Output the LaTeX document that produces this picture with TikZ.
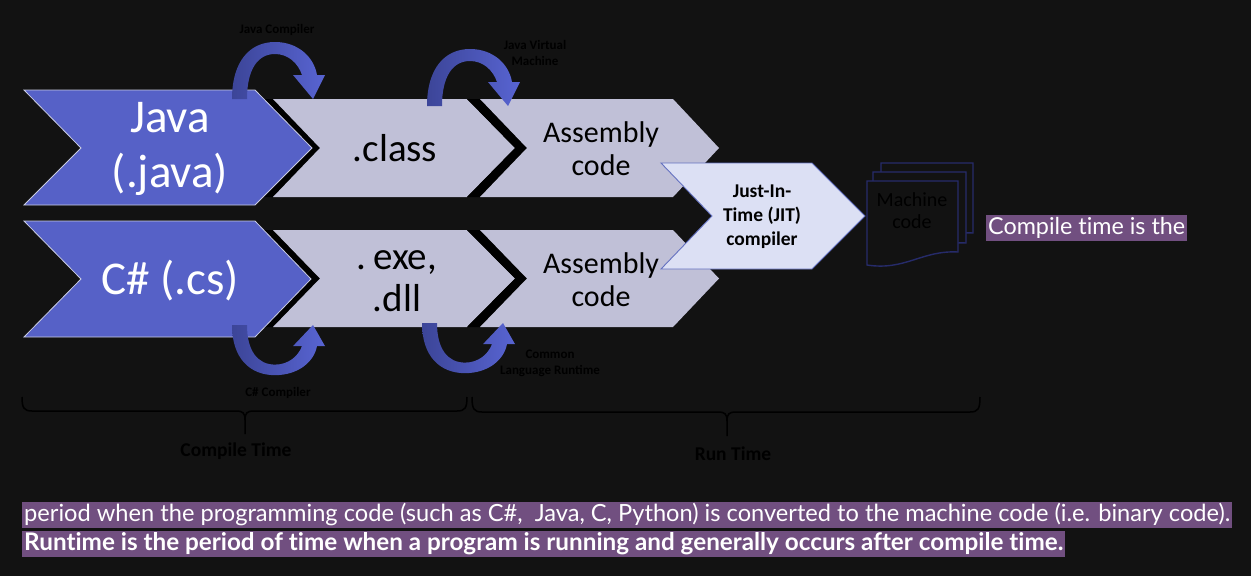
\documentclass[tikz,border=0pt]{standalone}
\usepackage{fontspec}
\setmainfont{Carlito}
\newfontfamily\latofont[Ligatures=NoCommon]{Lato}
\definecolor{bgc}{HTML}{121212}
\definecolor{bluech}{HTML}{5661C7}
\definecolor{blueedge}{HTML}{C9CCE2}
\definecolor{greych}{HTML}{C0C0D7}
\definecolor{jitfill}{HTML}{DCE0F4}
\definecolor{jitedge}{HTML}{6471C0}
\definecolor{docedge}{HTML}{262B6A}
\definecolor{arrowdark}{HTML}{3C4598}
\definecolor{arrowlight}{HTML}{5864D2}
\definecolor{hlc}{HTML}{714F80}
\begin{document}
\begin{tikzpicture}[x=1pt,y=-1pt,
  bluechev/.style={fill=bluech, draw=blueedge, line width=0.8pt, line join=miter},
  greychev/.style={fill=greych},
  band/.style={fill=black},
  bigtxt/.style={text=white, align=center, inner sep=0pt, font=\fontsize{47}{55}\selectfont},
  midtxt/.style={text=black, align=center, inner sep=0pt, font=\fontsize{39}{42}\selectfont},
  asmtxt/.style={text=black, align=center, inner sep=0pt, font=\fontsize{30}{33}\selectfont},
  jittxt/.style={text=black, align=center, inner sep=0pt, font=\bfseries\fontsize{19.5}{24}\selectfont},
  tinylbl/.style={text=black, align=center, inner sep=0pt, font=\bfseries\fontsize{13}{16}\selectfont},
  bracelbl/.style={text=black, inner sep=0pt, font=\bfseries\fontsize{19.5}{22}\selectfont},
  bracestyle/.style={draw=black, line width=1.5pt},
  hl/.style={fill=hlc, text=white, inner xsep=2pt, inner ysep=0pt, minimum height=26pt, anchor=west},
  carrow/.pic={\shade[left color=arrowdark, right color=arrowlight]
     (0,0) .. controls (0,-38) and (18,-57) .. (43,-57)
     .. controls (66,-57) and (82,-42) .. (85,-24) -- (93,-24) -- (81,0) -- (61,-24) -- (70,-24)
     .. controls (66,-36) and (56,-45) .. (43,-45)
     .. controls (26,-45) and (15,-30) .. (15,0) -- cycle;}
]
\useasboundingbox (0,0) rectangle (1251,576);
\fill[bgc] (0,0) rectangle (1251,576);

% top row
\fill[band] (263,99) -- (273,99) -- (320,148) -- (273,197) -- (263,197) -- (311,148) -- cycle;
\fill[greych] (273,99) -- (467,99) -- (515,148) -- (467,197) -- (273,197) -- (320,148) -- cycle;
\fill[band] (467,99) -- (480,99) -- (527,148) -- (480,197) -- (467,197) -- (515,148) -- cycle;
\fill[greych] (480,99) -- (673,99) -- (719,148) -- (673,197) -- (480,197) -- (527,148) -- cycle;
\draw[bluechev] (24,90) -- (255,90) -- (312,148) -- (255,205) -- (24,205) -- (81,148) -- cycle;

% bottom row
\fill[band] (263,230) -- (273,230) -- (320,278.5) -- (273,327) -- (263,327) -- (311,278.5) -- cycle;
\fill[greych] (273,230) -- (467,230) -- (515,278.5) -- (467,327) -- (273,327) -- (320,278.5) -- cycle;
\fill[band] (467,230) -- (480,230) -- (527,278.5) -- (480,327) -- (467,327) -- (515,278.5) -- cycle;
\fill[greych] (480,230) -- (673,230) -- (719,278.5) -- (673,327) -- (480,327) -- (527,278.5) -- cycle;
\draw[bluechev] (24,221) -- (255,221) -- (311,279) -- (255,337) -- (24,337) -- (81,279) -- cycle;

% JIT chevron
\draw[fill=jitfill, draw=jitedge, line width=0.9pt] (661,163) -- (812,163) -- (865,216) -- (812,269) -- (661,269) -- (712,216) -- cycle;

% machine code documents
\draw[docedge, line width=1.4pt, fill=bgc] (881,163) -- (973,163) -- (973,233) .. controls (940,231) and (925,251) .. (881,247) -- cycle;
\draw[docedge, line width=1.4pt, fill=bgc] (873,172) -- (966,172) -- (966,243) .. controls (933,241) and (918,261) .. (873,256) -- cycle;
\draw[docedge, line width=1.4pt, fill=bgc] (867,181) -- (958,181) -- (958,252) .. controls (922,250) and (905,271) .. (867,265) -- cycle;

% curved arrows
\pic at (232,99) {carrow};
\pic at (427,106) {carrow};
\pic[yscale=-0.88] at (232,325) {carrow};
\pic[yscale=-0.88] at (422,323) {carrow};

% texts in shapes
\node[bigtxt] (java) at (170,149) {Java\\(.java)};
\node[bigtxt] (cs) at (170,281) {C\# (.cs)};
\node[midtxt] (class) at (395,148) {.class};
\node[midtxt] (exe) at (397,281) {.\,exe,\\.dll};
\node[asmtxt] (asm1) at (601,149) {Assembly\\code};
\node[asmtxt] (asm2) at (601,280) {Assembly\\code};
\node[jittxt] (jit) at (762,217) {Just-In-\\Time (JIT)\\compiler};
\node[text=black, align=center, inner sep=0pt, font=\fontsize{20}{22}\selectfont] (mc) at (912,211) {Machine\\code};

% small labels
\node[tinylbl] (jcomp) at (277,30) {Java Compiler};
\node[tinylbl] (jvm) at (535,53) {Java Virtual\\Machine};
\node[tinylbl] (cscomp) at (278,393) {C\# Compiler};
\node[tinylbl] (clr) at (550,363) {Common\\Language Runtime};

% braces
\draw[bracestyle] (22,397) .. controls (22,408) and (24,411) .. (32,411) -- (236,411)
   .. controls (243,411) and (245,413) .. (245,420) -- (245,434);
\draw[bracestyle] (245,420) .. controls (245,413) and (247,411) .. (254,411) -- (457,411)
   .. controls (465,411) and (467,408) .. (467,397);
\draw[bracestyle] (472,397) .. controls (472,409) and (474,412) .. (482,412) -- (718,412)
   .. controls (725,412) and (727,414) .. (727,421) -- (727,436);
\draw[bracestyle] (727,421) .. controls (727,414) and (729,412) .. (736,412) -- (970,412)
   .. controls (978,412) and (980,409) .. (980,397);
\node[bracelbl] (ctime) at (236,451) {Compile Time};
\node[bracelbl] (rtime) at (733,454) {Run Time};

% highlighted text
\node[hl] (ctis) at (986,228) {\resizebox{197pt}{!}{\latofont\fontsize{21}{25}\selectfont Compile time is the}};
\node[hl] (line1) at (22,514.5) {\resizebox{1206pt}{!}{\latofont\fontsize{21}{25}\selectfont period when the programming code (such as C\#,\ \ Java, C, Python) is converted to the machine code (i.e. binary code).}};
\node[hl] (line2) at (22,544) {\resizebox{1039pt}{!}{\latofont\bfseries\fontsize{21}{25}\selectfont Runtime is the period of time when a program is running and generally occurs after compile time.}};
\end{tikzpicture}
\end{document}
